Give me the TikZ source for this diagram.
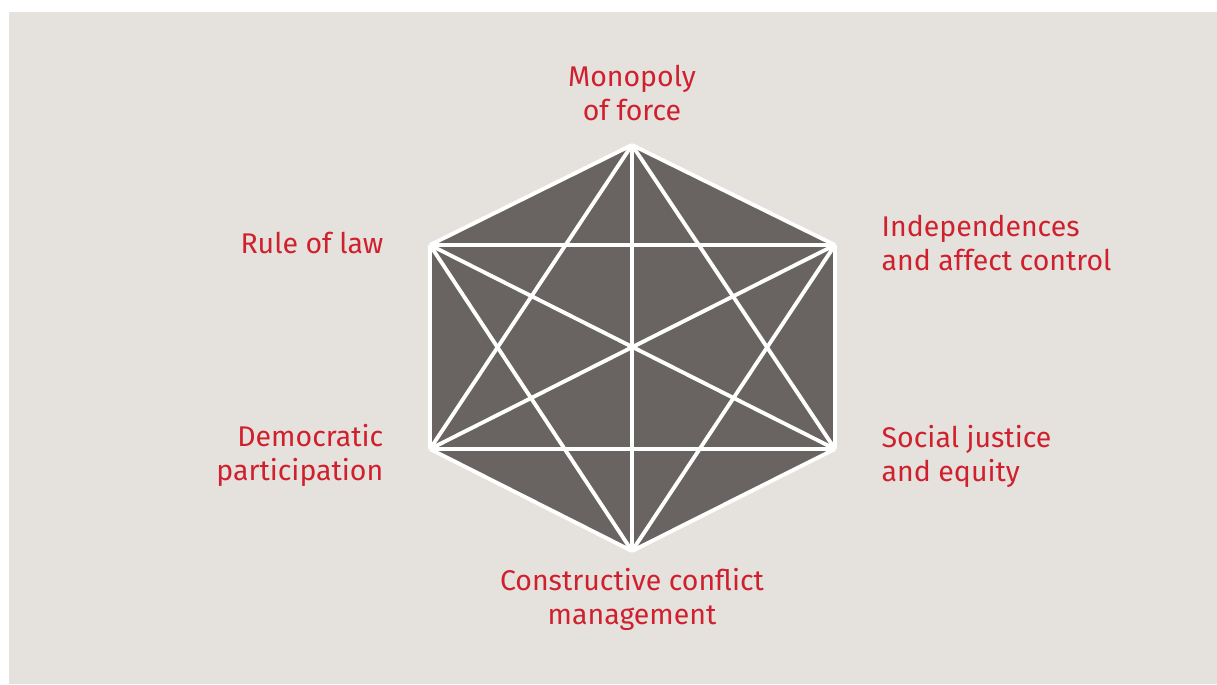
\documentclass[tikz,border=0pt]{standalone}
\usepackage{fontspec}
\setmainfont{Fira Sans}
\definecolor{panelgrey}{HTML}{E5E2DD}
\definecolor{hexgrey}{HTML}{696461}
\definecolor{labelred}{HTML}{D0202E}
\begin{document}
\begin{tikzpicture}[x=0.01cm,y=-0.01cm,
  pillar/.style={text=labelred,font=\fontsize{8.1}{9.6}\selectfont,inner sep=0pt},
  spoke/.style={draw=white,line width=1.1pt}]
  \useasboundingbox (0,0) rectangle (1217,684);
  \fill[panelgrey] (9,12) rectangle (1217,684);
  % corners of the hexagon
  \coordinate (force) at (632,145);
  \coordinate (affect) at (835,245);
  \coordinate (equity) at (835,449);
  \coordinate (conflict) at (632,551);
  \coordinate (participation) at (430,449);
  \coordinate (law) at (430,245);
  \fill[hexgrey] (force) -- (affect) -- (equity) -- (conflict) -- (participation) -- (law) -- cycle;
  % every corner joined to every other
  \foreach \a/\b in {force/affect,affect/equity,equity/conflict,conflict/participation,participation/law,law/force,
      force/conflict,law/equity,affect/participation,law/affect,participation/equity,
      force/participation,force/equity,conflict/law,conflict/affect}
    \draw[spoke] (\a) -- (\b);
  % base of a two-line label is the baseline of its last line
  \node[pillar,align=center,anchor=base] (force label) at (632,120) {Monopoly\\of force};
  \node[pillar,align=left,anchor=base west] (affect label) at (881,270) {Independences\\and affect control};
  \node[pillar,align=left,anchor=base west] (equity label) at (881,481) {Social justice\\and equity};
  \node[pillar,align=center,anchor=base] (conflict label) at (632,624) {Constructive conflict\\management};
  \node[pillar,align=right,anchor=base east] (participation label) at (384,480) {Democratic\\participation};
  \node[pillar,anchor=base east] (law label) at (384,253) {Rule of law};
\end{tikzpicture}
\end{document}
